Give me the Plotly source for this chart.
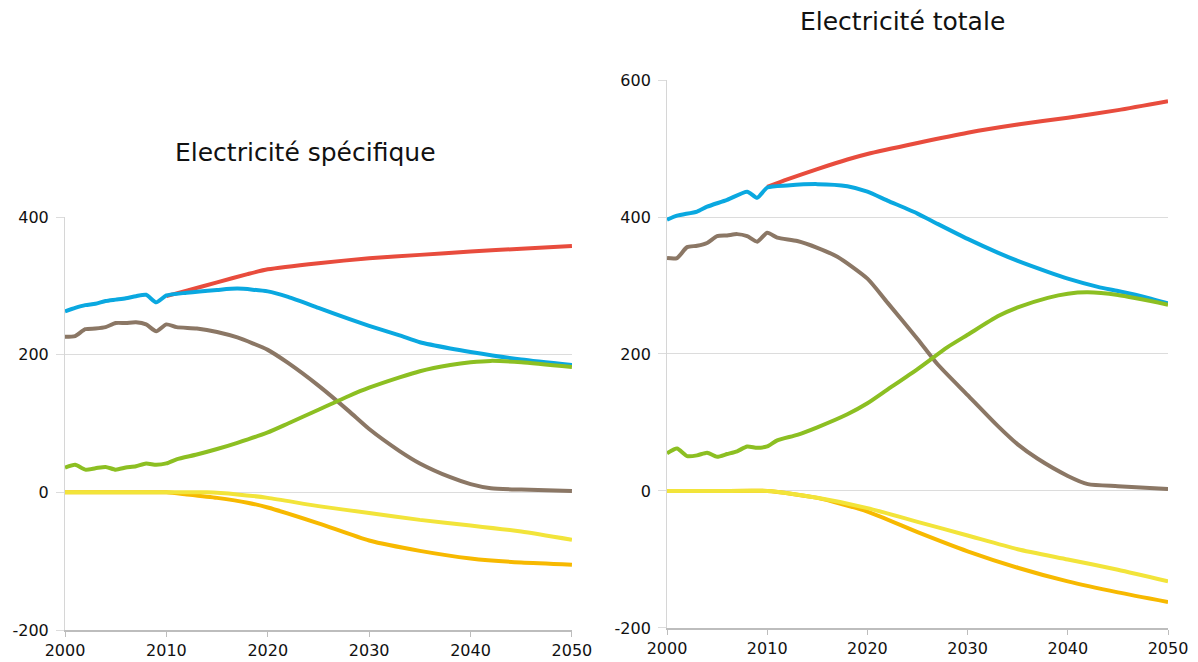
import plotly.graph_objects as go

# --- left panel: Electricité spécifique ---
sp_red_x = [2010, 2012, 2015, 2018, 2020, 2025, 2030, 2035, 2040, 2045, 2050]
sp_red_y = [285, 293, 305, 317, 324, 333, 340, 345, 350, 354, 358]

sp_blue_x = [2000, 2001, 2002, 2003, 2004, 2005, 2006, 2007, 2008, 2009, 2010, 2012, 2015, 2017,
             2020, 2022, 2025, 2028, 2030, 2033, 2035, 2038, 2040, 2045, 2050]
sp_blue_y = [263, 268, 272, 274, 278, 280, 282, 285, 287, 276, 286, 290, 294, 296,
             292, 284, 268, 252, 242, 228, 218, 209, 204, 193, 185]

sp_brown_x = [2000, 2001, 2002, 2003, 2004, 2005, 2006, 2007, 2008, 2009, 2010, 2011, 2013, 2015,
              2017, 2020, 2022, 2025, 2028, 2030, 2033, 2035, 2038, 2040, 2042, 2045, 2050]
sp_brown_y = [226, 227, 237, 238, 240, 246, 246, 247, 244, 234, 244, 240, 238, 233,
              225, 207, 188, 155, 118, 92, 60, 42, 22, 12, 6, 4, 2]

sp_green_x = [2000, 2001, 2002, 2003, 2004, 2005, 2006, 2007, 2008, 2009, 2010, 2011, 2013, 2015,
              2017, 2020, 2022, 2025, 2028, 2030, 2033, 2035, 2038, 2040, 2042, 2045, 2050]
sp_green_y = [36, 40, 33, 35, 37, 33, 36, 38, 42, 40, 42, 48, 55, 63,
              72, 87, 100, 120, 140, 152, 167, 176, 185, 189, 191, 189, 182]

sp_yellow_x = [2000, 2005, 2010, 2014, 2017, 2020, 2025, 2030, 2035, 2040, 2045, 2050]
sp_yellow_y = [0, 0, 0, 0, -3, -8, -20, -30, -40, -48, -57, -69]

sp_orange_x = [2000, 2005, 2010, 2012, 2015, 2018, 2020, 2025, 2030, 2035, 2040, 2045, 2050]
sp_orange_y = [0, 0, 0, -3, -8, -15, -22, -45, -70, -85, -96, -102, -105]

# --- right panel: Electricité totale ---
to_red_x = [2010, 2012, 2015, 2018, 2020, 2025, 2030, 2035, 2040, 2045, 2050]
to_red_y = [444, 455, 470, 484, 492, 508, 523, 535, 545, 556, 569]

to_blue_x = [2000, 2001, 2003, 2004, 2006, 2008, 2009, 2010, 2012, 2015, 2018, 2020, 2022, 2025,
             2027, 2030, 2033, 2035, 2038, 2040, 2043, 2045, 2048, 2050]
to_blue_y = [396, 402, 408, 415, 425, 437, 428, 443, 446, 448, 445, 437, 424, 405,
             390, 368, 348, 336, 320, 310, 298, 292, 282, 274]

to_brown_x = [2000, 2001, 2002, 2003, 2004, 2005, 2006, 2007, 2008, 2009, 2010, 2011, 2013, 2015,
              2017, 2020, 2022, 2025, 2027, 2030, 2033, 2035, 2037, 2040, 2042, 2045, 2050]
to_brown_y = [340, 340, 356, 358, 362, 372, 373, 375, 372, 364, 377, 370, 365, 355,
              342, 310, 275, 222, 185, 140, 95, 68, 47, 22, 10, 7, 3]

to_green_x = [2000, 2001, 2002, 2003, 2004, 2005, 2006, 2007, 2008, 2009, 2010, 2011, 2013, 2015,
              2018, 2020, 2022, 2025, 2028, 2030, 2033, 2035, 2038, 2040, 2042, 2045, 2050]
to_green_y = [55, 62, 51, 52, 56, 50, 54, 58, 65, 63, 65, 74, 82, 93,
              112, 128, 148, 178, 210, 228, 255, 268, 282, 288, 290, 286, 272]

to_yellow_x = [2000, 2005, 2010, 2015, 2020, 2025, 2030, 2035, 2040, 2045, 2050]
to_yellow_y = [0, 0, 0, -10, -25, -45, -65, -85, -100, -115, -132]

to_orange_x = [2000, 2005, 2010, 2015, 2020, 2025, 2030, 2035, 2040, 2045, 2050]
to_orange_y = [0, 0, 0, -10, -30, -60, -88, -112, -132, -148, -162]

years_ticks = [2000, 2010, 2020, 2030, 2040, 2050]
left_ticks = [-200, 0, 200, 400]
right_ticks = [-200, 0, 200, 400, 600]

RED = '#e84c3d'
BLUE = '#0aa8e0'
BROWN = '#8b7765'
GREEN = '#8cbf22'
YELLOW = '#f2e43a'
ORANGE = '#f7b900'

fig = go.Figure()

def add(x, y, color, xa, ya):
    fig.add_trace(go.Scatter(x=x, y=y, mode='lines', xaxis=xa, yaxis=ya,
                             line=dict(color=color, width=4, shape='spline', smoothing=0.6),
                             showlegend=False, hoverinfo='skip'))

panels = [
    ('x', 'y', sp_red_x, sp_red_y, sp_blue_x, sp_blue_y, sp_brown_x, sp_brown_y,
     sp_green_x, sp_green_y, sp_orange_x, sp_orange_y, sp_yellow_x, sp_yellow_y),
    ('x2', 'y2', to_red_x, to_red_y, to_blue_x, to_blue_y, to_brown_x, to_brown_y,
     to_green_x, to_green_y, to_orange_x, to_orange_y, to_yellow_x, to_yellow_y),
]
for p in panels:
    xa, ya = p[0], p[1]
    add(p[2], p[3], RED, xa, ya)
    add(p[4], p[5], BLUE, xa, ya)
    add(p[6], p[7], BROWN, xa, ya)
    add(p[8], p[9], GREEN, xa, ya)
    add(p[10], p[11], ORANGE, xa, ya)
    add(p[12], p[13], YELLOW, xa, ya)

font = dict(family='DejaVu Sans', size=16, color='#111111')

xaxis_common = dict(range=[2000, 2050], tickvals=years_ticks, automargin=False,
                    showgrid=False, zeroline=False, showline=True, linecolor='#bdbdbd',
                    linewidth=2, ticks='outside', ticklen=5, tickcolor='#bdbdbd',
                    tickfont=font)
yaxis_common = dict(showgrid=True, gridcolor='#dcdcdc', gridwidth=1, zeroline=False,
                    showline=True, linecolor='#d6d6d6', linewidth=1, ticks='outside',
                    ticklen=8, tickcolor='#dcdcdc', tickfont=font, automargin=False,
                    ticklabelstandoff=4)

title_font = dict(family='DejaVu Sans', size=25, color='#111111')

# the page body adds an 8px margin, so the figure sits at (8, 8) in the window
fig.update_layout(
    width=1190, height=654,
    margin=dict(l=0, r=0, t=0, b=0),
    paper_bgcolor='white', plot_bgcolor='white',
    font=font,
    xaxis=dict(domain=[0.0479, 0.4739], anchor='y', **xaxis_common),
    yaxis=dict(domain=[0.0489, 0.6804], anchor='x', range=[-200, 400],
               tickvals=left_ticks, ticktext=[str(v) for v in left_ticks], **yaxis_common),
    xaxis2=dict(domain=[0.5538, 0.9748], anchor='y2', **xaxis_common),
    yaxis2=dict(domain=[0.0520, 0.8899], anchor='x2', range=[-200, 600],
                tickvals=right_ticks, ticktext=[str(v) for v in right_ticks], **yaxis_common),
    annotations=[
        dict(text='Electricité spécifique', x=0.2496, y=0.7798, xref='paper', yref='paper',
             xanchor='center', yanchor='middle', showarrow=False, font=title_font),
        dict(text='Electricité totale', x=0.7521, y=0.9786, xref='paper', yref='paper',
             xanchor='center', yanchor='middle', showarrow=False, font=title_font),
    ],
)

fig.write_html("out.html")
